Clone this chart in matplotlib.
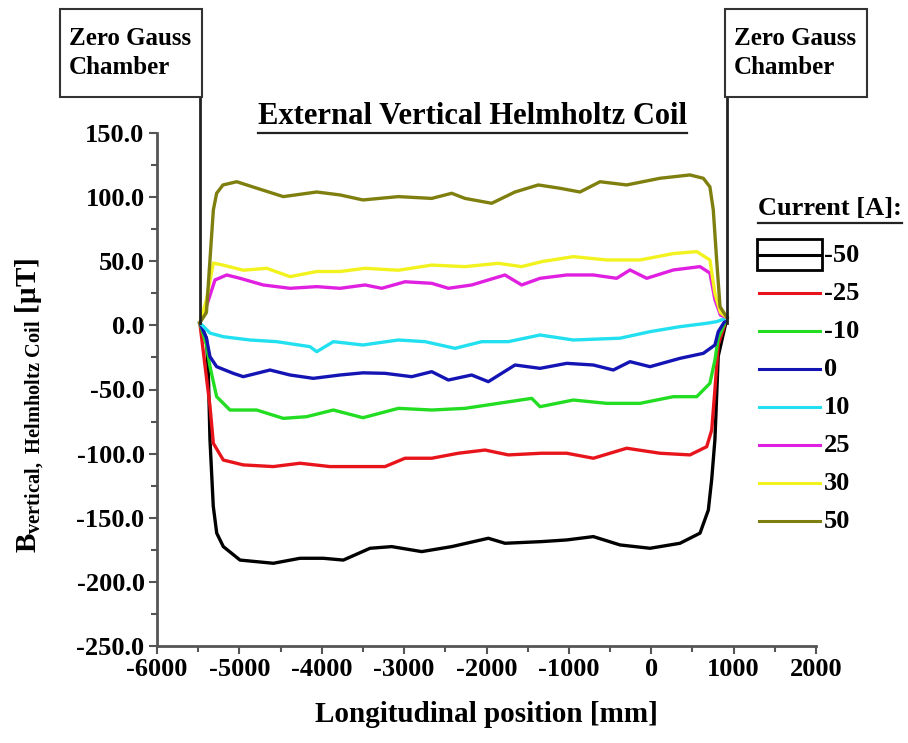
import numpy as np
import matplotlib.pyplot as plt
from matplotlib.lines import Line2D
from matplotlib.patches import Rectangle
from matplotlib.ticker import MultipleLocator, FormatStrFormatter

plt.rcParams['font.family'] = ['Liberation Serif', 'DejaVu Serif']
plt.rcParams['font.weight'] = 'bold'
plt.rcParams['axes.unicode_minus'] = False
plt.rcParams['mathtext.fontset'] = 'custom'
plt.rcParams['mathtext.rm'] = 'Liberation Serif:bold'
plt.rcParams['mathtext.it'] = 'Liberation Serif:bold'
plt.rcParams['mathtext.bf'] = 'Liberation Serif:bold'

# coil current of each measurement run
currents = ['-50', '-25', '-10', '0', '10', '25', '30', '50']
colors = ['#000000', '#e8141c', '#22dd22', '#1414b4', '#22e0f0', '#e020e0', '#f2f21e', '#7f7f10']

# longitudinal position [mm] / field [uT]
x_m50 = [-5480, -5400, -5377, -5357, -5317, -5275, -5195, -4992, -4588, -4264, -3981, -3738, -3414, -3151,
         -2787, -2422, -1978, -1775, -1330, -1026, -703, -379, -15, 349, 592, 693, 734, 773, 813, 920]
y_m50 = [2, -10, -37, -89, -141, -162, -172.5, -183, -185.5, -181.6, -181.6, -183, -173.8, -172.5,
         -176.4, -172.5, -166, -169.9, -168.6, -167.3, -164.7, -171.2, -173.8, -169.9, -162, -144, -120, -89, -24, 6]

x_m25 = [-5480, -5420, -5357, -5316, -5195, -4953, -4588, -4264, -3900, -3576, -3232, -2989, -2665, -2342,
         -2018, -1735, -1330, -1026, -703, -298, 106, 470, 673, 734, 773, 813, 920]
y_m25 = [2, -30, -63, -92, -105, -108.8, -110.1, -107.5, -110.1, -110.1, -110.1, -103.6, -103.6, -99.7,
         -97.2, -101, -99.7, -99.7, -103.6, -95.8, -99.7, -101, -94.6, -81.6, -50, -15, 6]

x_m10 = [-5480, -5400, -5357, -5276, -5114, -4790, -4467, -4184, -3859, -3500, -3070, -2665, -2261, -1857,
         -1451, -1350, -946, -541, -136, 268, 552, 712, 773, 813, 920]
y_m10 = [2, -15, -32, -55.6, -66, -66, -72.5, -71.2, -66, -72, -64.7, -66, -64.7, -60.8,
         -56.9, -63.4, -58.2, -60.8, -60.8, -55.6, -55.6, -45.2, -27, -10, 6]

x_0 = [-5480, -5400, -5357, -5276, -5074, -4953, -4628, -4385, -4103, -3778, -3500, -3232, -2908, -2665,
       -2463, -2180, -1978, -1654, -1350, -1026, -703, -461, -258, -15, 349, 632, 773, 813, 920]
y_0 = [2, -10, -24.4, -32.2, -37.4, -40, -34.8, -38.7, -41.3, -38.7, -37, -37.4, -40, -36.1,
       -42.6, -38.7, -43.9, -30.9, -33.5, -29.6, -30.9, -34.8, -28.3, -32.2, -25.7, -21.8, -15.3, -5, 6]

x_10 = [-5480, -5357, -5199, -4871, -4547, -4143, -4061, -3859, -3500, -3070, -2746, -2382, -2058, -1735,
        -1350, -946, -379, -15, 349, 673, 800, 920]
y_10 = [2, -6, -8.8, -11.4, -12.7, -16.6, -20.5, -12.7, -15.3, -11.4, -12.7, -17.9, -12.7, -12.7,
        -7.5, -11.4, -10, -4.9, -1, 1.6, 3, 6]

x_25 = [-5480, -5400, -5296, -5154, -4992, -4710, -4385, -4061, -3778, -3475, -3272, -2989, -2665, -2463,
        -2180, -1776, -1573, -1350, -1026, -703, -420, -258, -55, 268, 592, 712, 773, 840, 920]
y_25 = [2, 15, 35.4, 39.3, 36.7, 31.5, 28.9, 30.2, 28.9, 31.5, 28.9, 34, 32.8, 28.9,
        31.5, 39.3, 31.5, 36.7, 39.3, 39.3, 36.7, 43.2, 36.7, 43.2, 45.8, 40.8, 20, 8, 6]

x_30 = [-5480, -5400, -5316, -5199, -4952, -4668, -4385, -4061, -3778, -3475, -3070, -2665, -2261, -1857,
        -1573, -1330, -946, -541, -136, 268, 552, 712, 773, 840, 920]
y_30 = [2, 20, 48.6, 47, 43, 44.5, 38, 42, 42, 44.5, 43, 47, 45.8, 48.4,
        45.8, 49.7, 53.6, 51, 51, 56, 57.5, 51, 25, 10, 6]

x_50 = [-5480, -5400, -5357, -5316, -5276, -5199, -5032, -4790, -4467, -4061, -3778, -3500, -3070, -2665,
        -2422, -2261, -1937, -1654, -1371, -1108, -865, -622, -298, 106, 470, 632, 712, 753, 794, 835, 920]
y_50 = [2, 10, 51, 90, 103, 109.5, 112, 107, 100.4, 104, 101.7, 97.8, 100.4, 99,
        103, 99, 95.2, 104, 109.5, 106.9, 104, 112, 109.5, 114.7, 117.3, 114.7, 108, 90, 51, 14.6, 6]

xs = [x_m50, x_m25, x_m10, x_0, x_10, x_25, x_30, x_50]
ys = [y_m50, y_m25, y_m10, y_0, y_10, y_25, y_30, y_50]

# chamber boundaries (mm)
chamber_x = [-5478, 920]

W, H = 908, 743
def fx(px):
    return px / W
def fy(py):
    return 1 - py / H

fig = plt.figure(figsize=(9.08, 7.43), dpi=100)
ax = fig.add_axes([fx(157), fy(646), (816 - 157) / W, (646 - 133) / H])

for x, y, c in zip(xs, ys, colors):
    ax.plot(x, y, color=c, lw=2.4, solid_joinstyle='round')

ax.set_xlim(-6000, 2000)
ax.set_ylim(-250, 150)
ax.xaxis.set_major_locator(MultipleLocator(1000))
ax.xaxis.set_minor_locator(MultipleLocator(500))
ax.yaxis.set_major_locator(MultipleLocator(50))
ax.yaxis.set_minor_locator(MultipleLocator(25))
ax.yaxis.set_major_formatter(FormatStrFormatter('%.1f'))
for s in ['top', 'right']:
    ax.spines[s].set_visible(False)
for s in ['left', 'bottom']:
    ax.spines[s].set_linewidth(2)
    ax.spines[s].set_color('#555555')
ax.tick_params(which='major', direction='out', length=6, width=1.5, color='#555555', labelsize=19, pad=3)
ax.tick_params(which='minor', direction='out', length=4, width=1.5, color='#555555')
for lab in ax.get_xticklabels() + ax.get_yticklabels():
    lab.set_fontweight('bold')

ax.set_xlabel('Longitudinal position [mm]', fontsize=21, fontweight='bold', labelpad=14)
fig.text(fx(30), fy(405), r'B$_{\rm vertical,\ Helmholtz\ Coil}$ [μT]', rotation=90,
         fontsize=21, fontweight='bold', ha='center', va='center')

# chamber markers
for cx in chamber_x:
    ax.plot([cx, cx], [2, 178], color='#222222', lw=2, clip_on=False)
for x0, x1 in [(60, 202), (725, 867)]:
    fig.add_artist(Rectangle((fx(x0), fy(97)), (x1 - x0) / W, (97 - 9) / H, transform=fig.transFigure,
                             fill=False, edgecolor='#333333', lw=1.5))
    fig.text(fx(x0 + 9), fy(53), 'Zero Gauss\nChamber', fontsize=18, fontweight='bold',
             ha='left', va='center', linespacing=1.35)

fig.canvas.draw()
renderer = fig.canvas.get_renderer()

def underline(t, py):
    bb = t.get_window_extent(renderer).transformed(fig.transFigure.inverted())
    fig.add_artist(Line2D([bb.x0, bb.x1], [fy(py), fy(py)], transform=fig.transFigure, color='#222222', lw=1.6))

title = fig.text(fx(472), fy(116), 'External Vertical Helmholtz Coil', fontsize=22, fontweight='bold',
                 ha='center', va='center')
underline(title, 133)

# legend
head = fig.text(fx(758), fy(209), 'Current [A]:', fontsize=19, fontweight='bold', ha='left', va='center')
underline(head, 223)
for i, (lab, c) in enumerate(zip(currents, colors)):
    py = 255 + i * 38
    fig.add_artist(Line2D([fx(759), fx(820)], [fy(py), fy(py)], transform=fig.transFigure, color=c, lw=2.2))
    fig.text(fx(824), fy(py), lab, fontsize=19, fontweight='bold', ha='left', va='center')
fig.add_artist(Rectangle((fx(757), fy(270)), 65 / W, 31 / H, transform=fig.transFigure,
                         fill=False, edgecolor='black', lw=2))

fig.savefig('out.png', dpi=100)
